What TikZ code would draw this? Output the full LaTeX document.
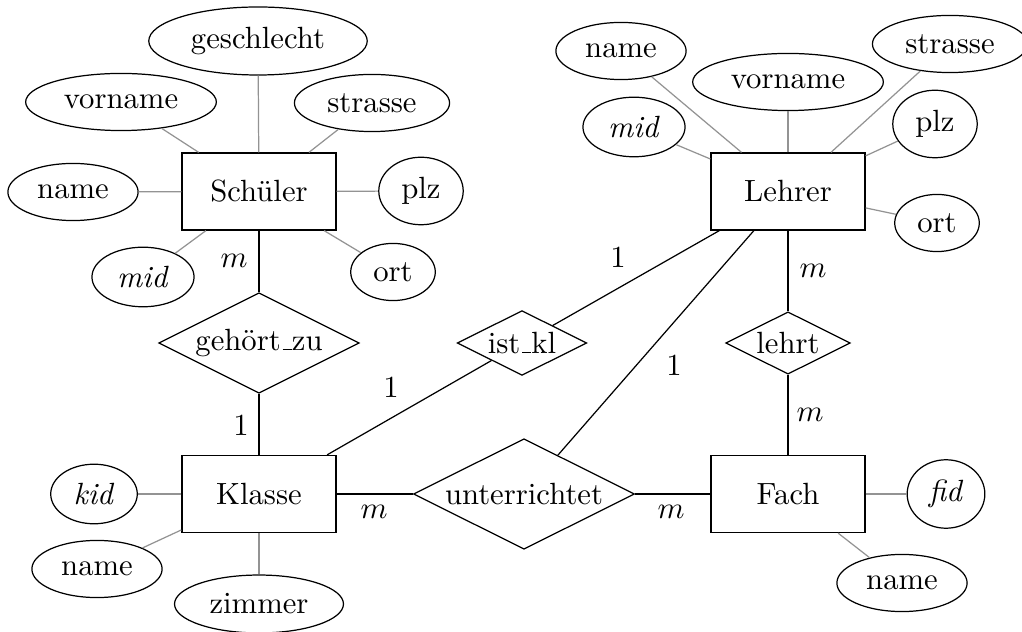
\documentclass[tikz,border=0pt]{standalone}
\usetikzlibrary{shapes.geometric}
\newcommand\ulbar{\leavevmode\kern.06em\vbox{\hrule width.3em}}
\begin{document}
\begin{tikzpicture}[x=0.3257pt,y=-0.3257pt,
  entity/.style={draw,rectangle,minimum width=50.2pt,minimum height=25.1pt,inner sep=0pt},
  attr/.style={draw,ellipse,minimum height=18.6pt},
  rel/.style={draw,diamond,aspect=2,inner sep=0pt},
  attrline/.style={draw=gray!85},
  relline/.style={draw=black},
  card/.style={inner sep=0pt}]
\useasboundingbox (0,0) rectangle (1022,632);
% entities
\node[entity] (schueler) at (259,191.5) {Schüler};
\node[entity] (lehrer) at (788,191.5) {Lehrer};
\node[entity] (klasse) at (259,494) {Klasse};
\node[entity] (fach) at (788,494) {Fach};
% relationships
\node[rel,minimum width=65.3pt,minimum height=32.7pt] (gehoert) at (259,343) {gehört\ulbar zu};
\node[rel,minimum width=42.2pt,minimum height=21.1pt] (istkl) at (522,343) {ist\ulbar kl};
\node[rel,minimum width=40.6pt,minimum height=20.3pt] (lehrt) at (788,343) {lehrt};
\node[rel,minimum width=72pt,minimum height=36pt] (unterr) at (524,494) {unterrichtet};
% Schueler attributes
\node[attr] (sgeschlecht) at (258,41) {geschlecht};
\node[attr] (svorname) at (121,102) {vorname};
\node[attr] (sstrasse) at (372,103) {strasse};
\node[attr] (sname) at (73,192) {name};
\node[attr] (splz) at (421,191) {plz};
\node[attr] (smid) at (143,277) {\textit{mid}};
\node[attr] (sort) at (393,272) {ort};
% Lehrer attributes
\node[attr] (lname) at (621,51) {name};
\node[attr] (lvorname) at (788,82) {vorname};
\node[attr] (lstrasse) at (950,44) {strasse};
\node[attr] (lmid) at (634,127) {\textit{mid}};
\node[attr] (lplz) at (935,124) {plz};
\node[attr] (lort) at (937,223) {ort};
% Klasse attributes
\node[attr] (kkid) at (94,494) {\textit{kid}};
\node[attr] (kname) at (97,569) {name};
\node[attr] (kzimmer) at (259,604) {zimmer};
% Fach attributes
\node[attr] (ffid) at (946,494) {\textit{fid}};
\node[attr] (fname) at (902,583) {name};
% attribute lines
\foreach \a in {sgeschlecht,svorname,sstrasse,sname,splz,smid,sort}
  \path[attrline] (schueler) -- (\a);
\foreach \a in {lname,lvorname,lstrasse,lmid,lplz,lort}
  \path[attrline] (lehrer) -- (\a);
\foreach \a in {kkid,kname,kzimmer}
  \path[attrline] (klasse) -- (\a);
\foreach \a in {ffid,fname}
  \path[attrline] (fach) -- (\a);
% relationship lines
\path[relline] (schueler) -- (gehoert);
\path[relline] (gehoert) -- (klasse);
\path[relline] (klasse) -- (istkl);
\path[relline] (istkl) -- (lehrer);
\path[relline] (lehrer) -- (lehrt);
\path[relline] (lehrt) -- (fach);
\path[relline] (klasse) -- (unterr);
\path[relline] (unterr) -- (fach);
\path[relline] (lehrer) -- (unterr);
% cardinalities
\node[card] (c1) at (234,261) {$m$};
\node[card] (c2) at (241,425) {1};
\node[card] (c3) at (391,387) {1};
\node[card] (c4) at (618,257) {1};
\node[card] (c5) at (813,271) {$m$};
\node[card] (c6) at (810,415) {$m$};
\node[card] (c7) at (674,365) {1};
\node[card] (c8) at (374,512) {$m$};
\node[card] (c9) at (671,512) {$m$};
\end{tikzpicture}
\end{document}
